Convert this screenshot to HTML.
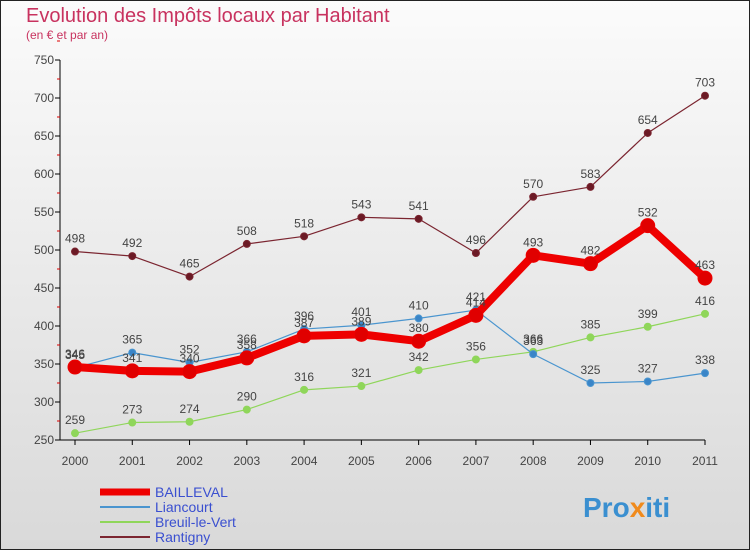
<!DOCTYPE html>
<html><head><meta charset="utf-8"><style>
body{margin:0;width:750px;height:550px;overflow:hidden;font-family:"Liberation Sans",sans-serif}
svg text{font-family:"Liberation Sans",sans-serif}
</style></head><body>
<svg id="c" width="750" height="550" xmlns="http://www.w3.org/2000/svg">
<defs><linearGradient id="bg" x1="0" y1="0" x2="0" y2="1"><stop offset="0" stop-color="#fbfbfb"/><stop offset="1" stop-color="#d9d9d9"/></linearGradient></defs>
<rect x="0.5" y="0.5" width="749" height="549" fill="url(#bg)" stroke="#222"/>
<text x="26" y="22" font-size="20" fill="#c8325f">Evolution des Impôts locaux par Habitant</text>
<text x="26" y="39" font-size="12" fill="#c8325f">(en € et par an)</text>
<g id="axes"></g><g id="series"></g><g id="legend"></g>
<text x="583" y="517" font-size="28" font-weight="bold" fill="#3a8fd0">Pro<tspan fill="#f08a1c">x</tspan>iti</text>
</svg>
<script>
const years=[2000,2001,2002,2003,2004,2005,2006,2007,2008,2009,2010,2011];
const yTicks=[250,300,350,400,450,500,550,600,650,700,750];
const bailleval=[346,341,340,358,387,389,380,414,493,482,532,463];
const liancourt=[345,365,352,366,396,401,410,421,363,325,327,338];
const breuil=[259,273,274,290,316,321,342,356,366,385,399,416];
const rantigny=[498,492,465,508,518,543,541,496,570,583,654,703];
const NS="http://www.w3.org/2000/svg";
const X=i=>75+i*(630/11);
const Y=v=>440-(v-250)*0.76;
function mk(t,a,p){const e=document.createElementNS(NS,t);for(const k in a)e.setAttribute(k,a[k]);p.appendChild(e);return e;}
const ax=document.getElementById('axes');
let l=mk('line',{x1:60,y1:60,x2:60,y2:440,stroke:'#000'},ax);


l=mk('line',{x1:60,y1:440,x2:705,y2:440,stroke:'#000'},ax);


yTicks.forEach(v=>{
 mk('line',{x1:55,y1:Y(v),x2:60,y2:Y(v),stroke:'#000'},ax);
 mk('line',{x1:57,y1:Y(v+25),x2:60,y2:Y(v+25),stroke:'#d00'},ax);
 const t=mk('text',{x:54,y:Y(v)+4,'font-size':12,fill:'#444','text-anchor':'end'},ax);t.textContent=v;
 
 
});
years.forEach((y,i)=>{
 mk('line',{x1:X(i),y1:440,x2:X(i),y2:445,stroke:'#000'},ax);
 const t=mk('text',{x:X(i),y:465,'font-size':12,fill:'#444','text-anchor':'middle'},ax);t.textContent=y;
 
 
});
const sg=document.getElementById('series');
function draw(vals,color,w,r,name,dot){
 const g=mk('g',{},sg);
 
 
 const p=mk('polyline',{points:vals.map((v,i)=>X(i)+','+Y(v)).join(' '),fill:'none',stroke:color,'stroke-width':w,'stroke-linejoin':'round'},g);
 
 
 vals.forEach((v,i)=>{
  const c=mk('circle',{cx:X(i),cy:Y(v),r:r,fill:dot,stroke:color,'stroke-width':1},g);
  
  
  const t=mk('text',{x:X(i),y:Y(v)-9,'font-size':12,fill:'#444','text-anchor':'middle'},g);t.textContent=v;
  
  
 });
}
draw(rantigny,'#7b2530',1.2,3.5,'rantigny','#6b1a25');
draw(breuil,'#8fd65a',1.2,3.5,'breuil-le-vert','#8fd65a');
draw(liancourt,'#4a95cf',1.2,3.5,'liancourt','#3a85c8');
draw(bailleval,'#ee0000',8,7,'bailleval','#e00000');
const lg=document.getElementById('legend');
[['BAILLEVAL','#ee0000',7],['Liancourt','#4a95cf',2],['Breuil-le-Vert','#8fd65a',2],['Rantigny','#7b2530',2]].forEach((d,i)=>{
 const y=492+i*15;
 const g=mk('g',{},lg);
 
 
 mk('line',{x1:100,y1:y,x2:150,y2:y,stroke:d[1],'stroke-width':d[2]},g);
 const t=mk('text',{x:155,y:y+5,'font-size':14,fill:'#3a4fd0'},g);t.textContent=d[0];
});
</script>
</body></html>
